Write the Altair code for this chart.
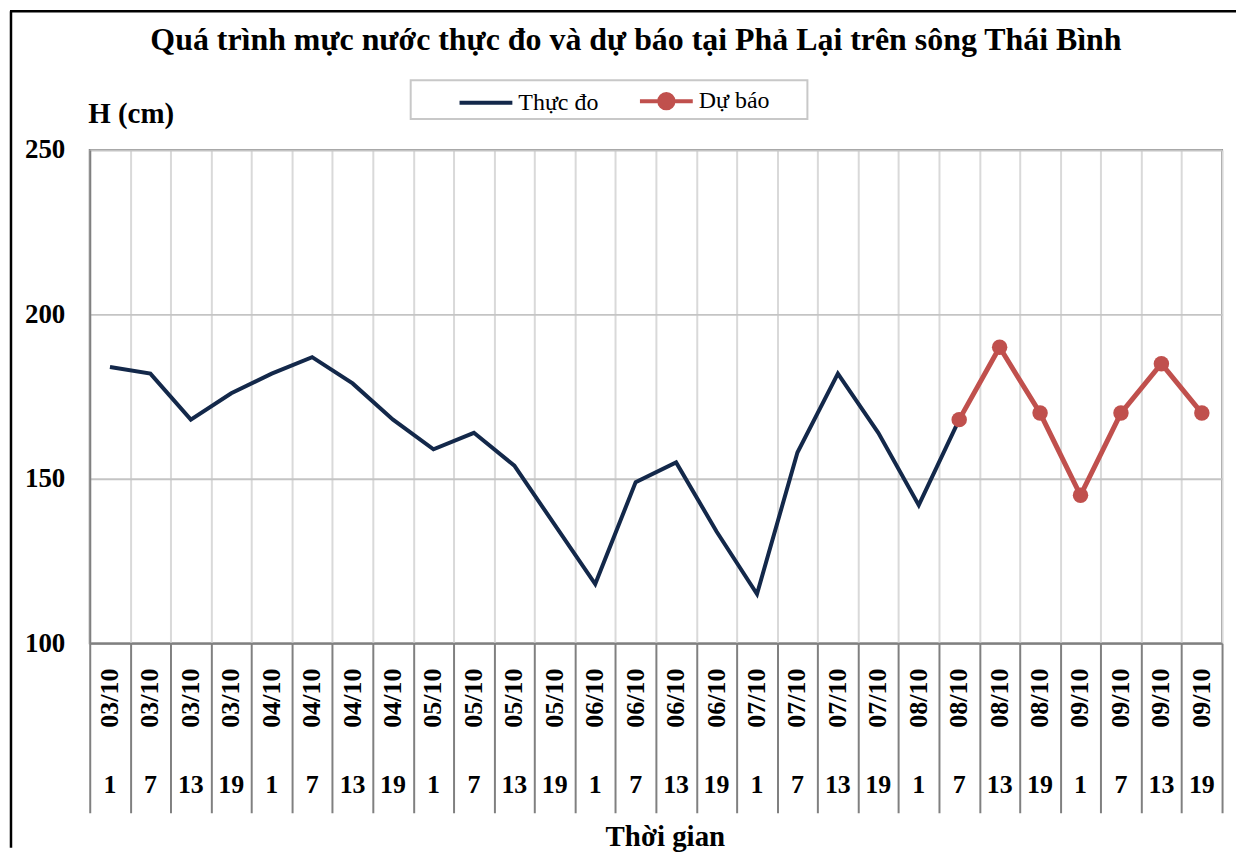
import altair as alt
import pandas as pd

TITLE = "Quá trình mực nước thực đo và dự báo tại Phả Lại trên sông Thái Bình"
Y_TITLE = "H (cm)"
X_TITLE = "Thời gian"
SERIES = ["Thực đo", "Dự báo"]
COLORS = ["#13284a", "#c0504d"]
LEGEND_SHAPES = [
    "M-1,0L1,0",
    "M-1,0L1,0M-0.27,0A0.27,0.27,0,1,1,0.27,0A0.27,0.27,0,1,1,-0.27,0Z",
]

dates = ["03/10", "03/10", "03/10", "03/10",
         "04/10", "04/10", "04/10", "04/10",
         "05/10", "05/10", "05/10", "05/10",
         "06/10", "06/10", "06/10", "06/10",
         "07/10", "07/10", "07/10", "07/10",
         "08/10", "08/10", "08/10", "08/10",
         "09/10", "09/10", "09/10", "09/10"]
hours = ["1", "7", "13", "19", "1", "7", "13", "19",
         "1", "7", "13", "19", "1", "7", "13", "19",
         "1", "7", "13", "19", "1", "7", "13", "19",
         "1", "7", "13", "19"]
observed = [184, 182, 168, 176, 182, 187, 179, 168, 159, 164, 154, 136,
            118, 149, 155, 134, 115, 158, 182, 164, 142, 168]
forecast = [168, 190, 170, 145, 170, 185, 170]
y_ticks = [100, 150, 200, 250]

keys = [d + " " + h for d, h in zip(dates, hours)]
n_obs = len(observed)
obs_df = pd.DataFrame({"key": keys[:n_obs], "value": observed})
fc_df = pd.DataFrame({"key": keys[n_obs - 1:], "value": forecast})
lab_df = pd.DataFrame({"key": keys, "date": dates, "hour": hours})
leg_df = pd.DataFrame({"s": SERIES})
one = pd.DataFrame({"t": [TITLE]})

W, H = 1136, 495
FONT = "Liberation Serif"

x_enc = alt.X(
    "key:N",
    scale=alt.Scale(type="band", domain=keys, paddingInner=0, paddingOuter=0),
    axis=alt.Axis(
        labels=False, tickBand="extent", tickSize=170, tickColor="#808080",
        tickWidth=2, grid=True, gridColor="#d9d9d9", gridWidth=2,
        domainColor="#808080", domainWidth=2,
        titleFont=FONT, titleFontSize=29, titleFontWeight="bold",
        titleColor="black", titleX=577, titleY=203, titleAlign="center",
        titleBaseline="alphabetic",
    ),
    title=X_TITLE,
)
y_enc = alt.Y(
    "value:Q",
    scale=alt.Scale(domain=[100, 250], nice=False, zero=False),
    axis=alt.Axis(
        values=y_ticks, tickSize=0, labelPadding=25, labelFont=FONT,
        labelFontSize=27, labelFontWeight="bold", labelColor="black",
        gridColor="#c4c4c4", gridWidth=2, domainColor="#808080", domainWidth=2,
        titleAngle=0, titleX=-2, titleY=-27, titleAlign="left",
        titleBaseline="alphabetic", titleFont=FONT, titleFontSize=29,
        titleFontWeight="bold", titleColor="black",
    ),
    title=Y_TITLE,
)

leg = alt.Legend(
    orient="none", legendX=369, legendY=-77.5, direction="horizontal",
    padding=0, symbolOffset=0, labelOffset=4, columnPadding=33,
    symbolSize=2809, symbolStrokeWidth=4, labelFont=FONT, labelFontSize=24,
    labelColor="black",
)

legend_layer = alt.Chart(leg_df).transform_filter("false").mark_point(
    filled=True, opacity=1
).encode(
    color=alt.Color("s:N", scale=alt.Scale(domain=SERIES, range=COLORS), legend=leg, title=None),
    stroke=alt.Stroke("s:N", scale=alt.Scale(domain=SERIES, range=COLORS), legend=leg, title=None),
    shape=alt.Shape("s:N", scale=alt.Scale(domain=SERIES, range=LEGEND_SHAPES), legend=leg, title=None),
)

title_txt = alt.Chart(one).mark_text(
    font=FONT, fontSize=32, fontWeight="bold", color="black",
    align="center", baseline="alphabetic",
).encode(text="t:N", x=alt.value(548), y=alt.value(-100))

legend_box = alt.Chart(one).mark_rect(
    fill="white", stroke="#c8c8c8", strokeWidth=2
).encode(x=alt.value(322), x2=alt.value(720), y=alt.value(-70), y2=alt.value(-31))

border_left = alt.Chart(one).mark_rule(color="black", strokeWidth=2.5).encode(
    x=alt.value(-79), y=alt.value(-139), y2=alt.value(H + 205))
border_top = alt.Chart(one).mark_rule(color="black", strokeWidth=2.5).encode(
    x=alt.value(-80), x2=alt.value(W + 14), y=alt.value(-139))

obs_line = alt.Chart(obs_df).mark_line(color=COLORS[0], strokeWidth=4).encode(x=x_enc, y=y_enc)
fc_line = alt.Chart(fc_df).mark_line(color=COLORS[1], strokeWidth=5).encode(x=x_enc, y=y_enc)
fc_pts = alt.Chart(fc_df).mark_circle(color=COLORS[1], size=240, opacity=1).encode(x=x_enc, y=y_enc)

date_txt = alt.Chart(lab_df).mark_text(
    angle=270, font=FONT, fontSize=26, fontWeight="bold", color="black",
    align="center", baseline="middle",
).encode(x=x_enc, y=alt.value(H + 55), text="date:N")
hour_txt = alt.Chart(lab_df).mark_text(
    font=FONT, fontSize=26, fontWeight="bold", color="black",
    align="center", baseline="middle",
).encode(x=x_enc, y=alt.value(H + 142), text="hour:N")

chart = alt.layer(
    legend_layer, border_left, border_top, title_txt, legend_box,
    obs_line, fc_line, fc_pts, date_txt, hour_txt,
).properties(width=W, height=H, padding=0).configure(font=FONT).configure_view(
    stroke="#8c8c8c", strokeWidth=2
)

chart.save("out.html", embed_options={"renderer": "svg", "actions": False})
